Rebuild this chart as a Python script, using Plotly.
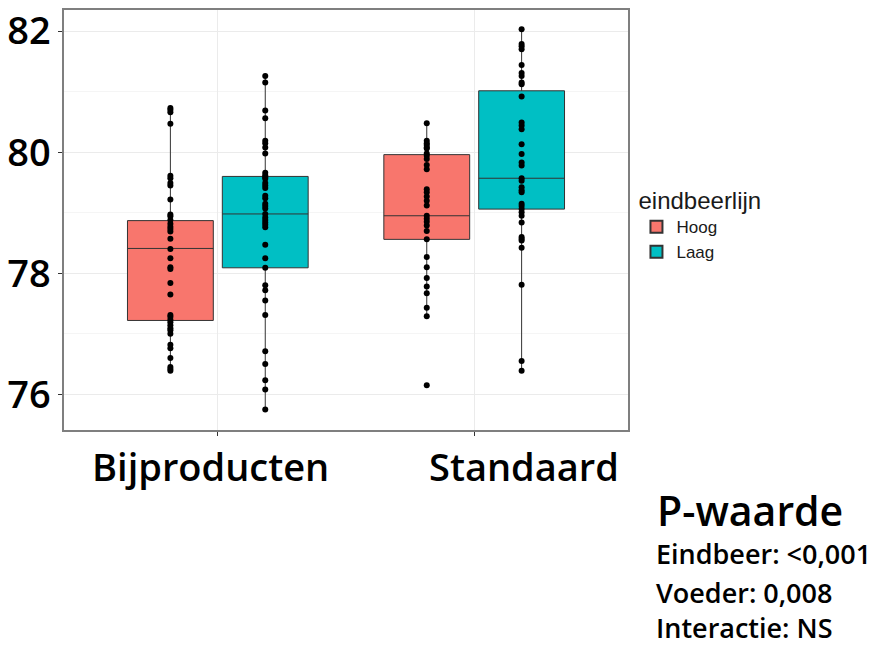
import plotly.graph_objects as go

# ---- data ----
categories = ["Bijproducten", "Standaard"]
groups = ["Hoog", "Laag"]
colors = {"Hoog": "#F8766D", "Laag": "#00BFC4"}

# box statistics per category (Bijproducten, Standaard)
hoog_q1 = [77.22, 78.56]
hoog_median = [78.41, 78.95]
hoog_q3 = [78.87, 79.96]
hoog_lower = [76.39, 77.29]
hoog_upper = [80.73, 80.48]

laag_q1 = [78.09, 79.06]
laag_median = [78.98, 79.57]
laag_q3 = [79.60, 81.015]
laag_lower = [75.75, 76.39]
laag_upper = [81.26, 82.03]

# individual observations
bij_hoog = [80.73, 80.70, 80.66, 80.47, 79.61, 79.57, 79.49, 79.45, 79.22, 78.97, 78.94, 78.88,
            78.82, 78.77, 78.73, 78.69, 78.57, 78.40, 78.25, 78.10, 78.07, 77.84, 77.65, 77.31,
            77.28, 77.23, 77.19, 77.14, 77.09, 77.06, 77.00, 76.82, 76.76, 76.60, 76.45, 76.42, 76.39]
bij_laag = [81.26, 81.15, 80.69, 80.56, 80.19, 80.15, 80.08, 79.98, 79.66, 79.62, 79.585, 79.56,
            79.49, 79.45, 79.41, 79.28, 79.24, 79.15, 79.11, 79.07, 78.98, 78.92, 78.88, 78.84,
            78.80, 78.76, 78.47, 78.25, 78.09, 77.80, 77.72, 77.55, 77.31, 76.71, 76.50, 76.23,
            76.08, 75.75]
std_hoog = [80.48, 80.19, 80.15, 80.12, 80.08, 80.06, 79.98, 79.94, 79.89, 79.79, 79.72, 79.39,
            79.34, 79.27, 79.20, 79.12, 78.95, 78.90, 78.85, 78.79, 78.70, 78.56, 78.27, 78.10,
            77.92, 77.78, 77.67, 77.43, 77.29, 76.15]
std_laag = [82.03, 81.79, 81.75, 81.70, 81.44, 81.31, 81.26, 81.15, 81.125, 80.92, 80.49, 80.44,
            80.38, 80.13, 79.97, 79.83, 79.78, 79.57, 79.53, 79.42, 79.37, 79.34, 79.15, 79.11,
            79.06, 79.01, 78.95, 78.84, 78.60, 78.57, 78.54, 78.42, 77.81, 76.55, 76.39]

y_ticks = [76, 78, 80, 82]
legend_title = "eindbeerlijn"
pvalue_title = "P-waarde"
pvalue_lines = ["Eindbeer: <0,001", "Voeder: 0,008", "Interactie: NS"]

stats = {
    "Hoog": (hoog_q1, hoog_median, hoog_q3, hoog_lower, hoog_upper),
    "Laag": (laag_q1, laag_median, laag_q3, laag_lower, laag_upper),
}
points = {
    "Hoog": (bij_hoog, std_hoog),
    "Laag": (bij_laag, std_laag),
}

fig = go.Figure()
for g in groups:
    q1, med, q3, lo, hi = stats[g]
    fig.add_trace(go.Box(
        name=g, x=categories, q1=q1, median=med, q3=q3, lowerfence=lo, upperfence=hi,
        fillcolor=colors[g], line=dict(color="#333333", width=1), whiskerwidth=0,
        boxpoints=False, offsetgroup=g, legendgroup=g, hoverinfo="skip",
    ))
for g in groups:
    a, b = points[g]
    fig.add_trace(go.Scatter(
        x=[categories[0]] * len(a) + [categories[1]] * len(b), y=a + b,
        mode="markers", marker=dict(color="black", size=6),
        offsetgroup=g, legendgroup=g, showlegend=False, hoverinfo="skip",
    ))

main_font = "Open Sans"
W = 600
fig.update_layout(
    width=890, height=647,
    margin=dict(l=64, r=262, t=10, b=217),
    paper_bgcolor="white", plot_bgcolor="white",
    boxmode="group", scattermode="group",
    boxgap=0.26, boxgroupgap=0.095, scattergap=0.26,
    showlegend=True,
    legend=dict(
        title=dict(text=legend_title, font=dict(family="Liberation Sans", size=24, color="#1a1a1a")),
        font=dict(family="Liberation Sans", size=17, color="#1a1a1a"),
        x=1.015, xanchor="left", y=0.600, yanchor="top", tracegroupgap=0,
        itemsizing="constant",
    ),
    xaxis=dict(
        type="category", range=[-0.6, 1.6], showticklabels=False, automargin=False,
        showgrid=True, gridcolor="#EBEBEB", gridwidth=1,
        ticks="outside", ticklen=4, tickcolor="#333333",
        showline=True, linecolor="#7F7F7F", linewidth=1.5, mirror=True, zeroline=False,
    ),
    yaxis=dict(
        range=[75.41, 82.35], tickvals=y_ticks, ticktext=[str(v) for v in y_ticks],
        automargin=False,
        tickfont=dict(family=main_font, size=38, color="black", weight=W),
        showgrid=True, gridcolor="#EBEBEB", gridwidth=1,
        minor=dict(dtick=1, tick0=75, showgrid=True, gridcolor="#F5F5F5"),
        ticks="outside", ticklen=4, tickcolor="#333333",
        showline=True, linecolor="#7F7F7F", linewidth=1.5, mirror=True, zeroline=False,
    ),
)

# category labels (shifted as in the reference)
shifts = [-7, 50]
for cat, sh in zip(categories, shifts):
    fig.add_annotation(text=cat, x=cat, xref="x", y=-0.085, yref="paper", xshift=sh,
                       showarrow=False, xanchor="center", yanchor="middle",
                       font=dict(family=main_font, size=38, color="black", weight=W))

fig.add_annotation(text=pvalue_title, x=1.048, xref="paper", y=-0.19, yref="paper",
                   showarrow=False, xanchor="left", yanchor="middle",
                   font=dict(family=main_font, size=41, color="black", weight=W))
line_y = [-0.293, -0.386, -0.470]
for t, yy in zip(pvalue_lines, line_y):
    fig.add_annotation(text=t, x=1.048, xref="paper", y=yy, yref="paper",
                       showarrow=False, xanchor="left", yanchor="middle", borderpad=0,
                       font=dict(family=main_font, size=27, color="black", weight=W))

fig.write_html("out.html")
